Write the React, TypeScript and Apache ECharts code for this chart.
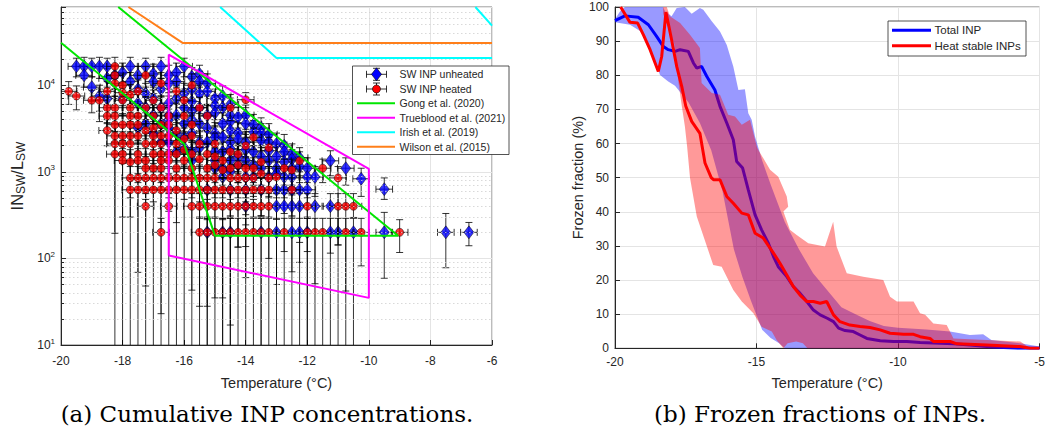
import React, { useEffect, useRef } from "react";
import * as echarts from "echarts";

// ---------- Left panel: cumulative INP concentrations ----------
// each point: [temperature °C, IN_SW/L_SW, lower error end, upper error end]
const unheated: number[][] = [
  [-19.5, 16500, 12500, 20500], [-19.25, 16500, 12000, 21000], [-19.0, 16500, 12500, 20500],
  [-18.75, 16500, 12000, 21000], [-18.5, 16500, 12500, 20500], [-17.75, 16500, 12000, 21000],
  [-17.25, 16500, 12500, 20500], [-16.75, 16500, 12000, 21000], [-16.0, 16500, 12500, 20500],
  [-19.25, 13000, 9500, 16500], [-18.25, 13000, 9000, 17000], [-17.5, 13000, 9500, 16500],
  [-16.5, 13000, 9000, 17000], [-15.75, 12500, 9000, 16000],
  [-18.5, 12000, 8500, 15500], [-18.0, 14000, 10000, 18000], [-17.0, 13500, 10000, 17500],
  [-16.25, 14000, 10000, 18000], [-15.5, 13500, 9500, 17000],
  [-17.75, 11000, 8000, 14000], [-17.0, 11000, 8000, 14500], [-16.25, 11000, 7500, 14000], [-15.5, 11000, 8000, 14500],
  [-16.5, 10500, 7500, 13500], [-15.25, 10500, 7500, 13500],
  [-19.0, 9500, 6500, 12500], [-17.5, 9000, 6500, 12000], [-16.75, 9000, 6000, 12000],
  [-15.75, 9000, 6500, 12000], [-15.25, 8500, 6000, 11000],
  [-17.25, 8000, 5500, 10500], [-16.0, 8000, 5500, 10500], [-15.5, 8000, 5500, 10500], [-14.75, 7500, 5200, 9800],
  [-18.75, 7500, 5000, 10000], [-18.5, 7000, 3600, 9500], [-18.0, 7000, 4500, 9500],
  [-17.0, 7000, 4800, 9500], [-16.25, 7000, 4500, 9500], [-15.0, 7000, 5000, 9000],
  [-17.5, 6200, 4200, 8200], [-16.5, 6200, 4200, 8200], [-15.75, 6500, 4500, 8500],
  [-15.0, 5800, 4000, 7600], [-14.5, 6000, 4200, 7800],
  [-17.25, 5500, 3800, 7200], [-16.75, 5500, 3500, 7500], [-16.0, 5500, 3800, 7200],
  [-15.5, 5500, 3600, 7400], [-14.75, 5500, 4000, 7000],
  [-15.75, 5000, 3400, 6600], [-15.0, 4800, 3300, 6300], [-14.0, 4500, 3100, 5900],
  [-17.0, 4500, 3000, 6000], [-16.5, 4500, 3100, 6000], [-16.25, 4500, 2900, 6200],
  [-15.25, 4500, 3000, 6000], [-14.5, 4500, 3200, 5800], [-14.25, 4300, 3000, 5600],
  [-16.5, 4000, 2700, 5300], [-15.75, 4000, 2700, 5300], [-14.5, 3800, 2600, 5000],
  [-17.25, 3600, 2400, 4800], [-16.75, 3600, 2300, 4900], [-16.0, 3600, 2400, 4800],
  [-15.5, 3600, 2500, 4700], [-14.75, 3600, 2400, 4800], [-14.0, 3600, 2500, 4700], [-13.75, 3500, 2400, 4600],
  [-17.5, 3200, 2100, 4300], [-16.5, 3200, 2100, 4300], [-15.25, 3200, 2100, 4300], [-13.5, 3200, 2200, 4200],
  [-17.0, 2800, 1800, 3800], [-16.25, 2800, 1900, 3700], [-15.75, 2800, 1800, 3800],
  [-15.0, 2800, 1900, 3700], [-14.25, 2800, 1800, 3700], [-13.5, 2800, 1900, 3600],
  [-14.5, 3000, 2000, 4000], [-13.75, 2900, 2000, 3900], [-13.25, 2700, 1800, 3600],
  [-16.0, 2500, 1600, 3400], [-15.0, 2500, 1600, 3400], [-14.75, 2500, 1700, 3300],
  [-14.25, 2400, 1600, 3200], [-13.5, 2300, 1500, 3100],
  [-16.75, 2200, 1400, 3000], [-16.5, 2200, 1300, 3100], [-15.5, 2200, 1400, 3000], [-15.25, 2200, 1500, 2900],
  [-14.5, 2200, 1400, 3000], [-14.0, 2200, 1500, 2900], [-13.25, 2200, 1400, 2900], [-13.0, 2100, 1400, 2800],
  [-12.75, 2000, 1400, 2700], [-16.0, 1900, 1200, 2600], [-15.5, 1900, 1200, 2600],
  [-14.5, 1850, 1200, 2500], [-14.0, 1800, 1200, 2400], [-13.25, 1750, 1150, 2350],
  [-16.25, 1700, 1100, 2300], [-15.75, 1700, 1050, 2300], [-15.0, 1700, 1100, 2300],
  [-14.75, 1700, 1100, 2200], [-13.75, 1700, 1100, 2200], [-12.75, 1700, 1150, 2200], [-12.5, 1600, 1100, 2100],
  [-14.25, 1500, 950, 2000], [-13.5, 1500, 950, 2000], [-13.0, 1500, 1000, 2000], [-12.25, 1450, 1000, 1900],
  [-15.75, 1350, 850, 1800], [-15.0, 1350, 800, 1850], [-14.5, 1350, 850, 1800], [-14.0, 1350, 850, 1800],
  [-13.25, 1350, 900, 1750], [-12.5, 1400, 950, 1800], [-11.25, 1340, 900, 1750],
  [-14.25, 1200, 750, 1600], [-13.75, 1200, 750, 1600], [-12.75, 1300, 850, 1700], [-12.25, 1150, 750, 1500],
  [-15.0, 1100, 650, 1500], [-14.75, 1100, 700, 1450], [-13.5, 1100, 700, 1450], [-13.0, 1100, 650, 1500],
  [-12.5, 1100, 700, 1450], [-12.0, 1100, 750, 1450], [-10.75, 1100, 700, 1450],
  [-14.5, 1000, 600, 1350], [-13.0, 950, 600, 1300],
  [-14.0, 870, 500, 1150], [-13.25, 870, 520, 1150], [-12.5, 870, 540, 1150], [-12.0, 870, 500, 1150],
  [-11.75, 870, 520, 1150], [-10.25, 830, 520, 1100],
  [-14.75, 870, 500, 1150], [-13.75, 870, 520, 1150], [-12.75, 870, 500, 1150],
  [-15.25, 620, 300, 850], [-13.0, 620, 282, 850], [-12.75, 620, 330, 850], [-12.25, 620, 153, 850],
  [-12.0, 620, 300, 850], [-9.5, 630, 480, 850],
  [-14.5, 620, 300, 850], [-14.0, 620, 320, 850], [-13.5, 620, 300, 850], [-12.5, 620, 310, 850],
  [-13.0, 400, 50, 560], [-12.75, 400, 120, 560], [-11.75, 400, 51, 560], [-11.25, 400, 115, 560],
  [-14.0, 400, 60, 560], [-12.5, 400, 70, 560], [-12.25, 400, 90, 560],
  [-15.25, 200, 10, 290], [-14.5, 200, 10, 290], [-13.0, 200, 10, 290], [-12.5, 200, 10, 290],
  [-12.25, 200, 10, 290], [-11.25, 200, 10, 290], [-11.0, 200, 10, 290], [-10.5, 200, 10, 290],
  [-14.75, 200, 10, 290], [-13.5, 200, 10, 290], [-12.0, 200, 10, 290],
  [-9.5, 200, 59, 340], [-7.5, 200, 78, 330], [-6.75, 200, 140, 260],
];

const heated: number[][] = [
  [-18.25, 16500, 12000, 21000],
  [-18.25, 13000, 9000, 17000], [-17.25, 13000, 9500, 16500],
  [-18.25, 10500, 7500, 14000], [-18.0, 10000, 7000, 13500], [-16.75, 10500, 7500, 14000], [-15.75, 10000, 7000, 13500],
  [-19.75, 8500, 6000, 11000], [-17.5, 8500, 6000, 11500], [-16.25, 8500, 6000, 11000],
  [-18.5, 8500, 6000, 11000], [-18.0, 8200, 5800, 10800], [-17.75, 7800, 5500, 10200],
  [-19.5, 7500, 5200, 9800],
  [-19.0, 6700, 4800, 8800], [-18.75, 6700, 3800, 9000], [-18.0, 6700, 4500, 9000],
  [-17.0, 6700, 4700, 8800], [-16.0, 6700, 4500, 9000], [-14.0, 6800, 5500, 8200],
  [-18.5, 5500, 3700, 7300], [-18.25, 5500, 3600, 7400], [-17.75, 5500, 3800, 7200], [-17.25, 5500, 3600, 7400],
  [-16.75, 5500, 3700, 7300], [-15.5, 5500, 3800, 7200], [-14.5, 5500, 3900, 7100],
  [-18.5, 4400, 3000, 5900], [-17.5, 4400, 3000, 5900],
  [-18.25, 4400, 2900, 5900], [-17.75, 4400, 2800, 6000], [-17.0, 4400, 2900, 5900],
  [-16.5, 4400, 3000, 5800], [-16.0, 4400, 2900, 5900], [-15.25, 4400, 3000, 5800],
  [-18.25, 3500, 2200, 4800], [-18.0, 3500, 2300, 4700], [-17.75, 3500, 2200, 4800], [-17.5, 3500, 2300, 4700],
  [-16.75, 3500, 2200, 4800], [-16.5, 3500, 2300, 4700], [-15.75, 3500, 2200, 4800],
  [-18.5, 3000, 2000, 4000], [-17.25, 3000, 2000, 4000], [-17.0, 3200, 2100, 4300], [-16.25, 3000, 2000, 4000],
  [-18.25, 2600, 1600, 3600], [-18.0, 2600, 1700, 3500], [-17.75, 2600, 1600, 3600], [-17.5, 2600, 1700, 3500],
  [-17.0, 2600, 1600, 3600], [-16.5, 2600, 1700, 3500], [-15.75, 2600, 1600, 3600], [-13.75, 2500, 1800, 3200],
  [-16.75, 2600, 1700, 3500], [-16.0, 2400, 1600, 3200],
  [-18.25, 2100, 10, 2900], [-18.0, 2100, 1250, 2900], [-17.75, 2100, 500, 2900], [-17.25, 2100, 1300, 2800],
  [-17.0, 2100, 1250, 2900], [-16.75, 2100, 1300, 2900], [-16.25, 2100, 1300, 2800], [-15.5, 2100, 1300, 2900],
  [-15.0, 2100, 1350, 2800], [-14.0, 2000, 1300, 2700], [-13.25, 1900, 1300, 2500],
  [-16.0, 1800, 1100, 2400], [-14.5, 1700, 1100, 2300],
  [-18.25, 1600, 195, 2200], [-18.0, 1600, 300, 2200], [-17.5, 1600, 950, 2200], [-16.75, 1600, 1000, 2200],
  [-16.5, 1600, 950, 2200], [-16.25, 1600, 1000, 2200], [-15.75, 1600, 950, 2200], [-15.25, 1600, 1000, 2100],
  [-14.25, 1600, 1000, 2100], [-17.0, 1600, 1000, 2200],
  [-15.0, 1500, 950, 2000], [-15.5, 1400, 900, 1900],
  [-18.0, 1350, 10, 1850], [-17.5, 1350, 750, 1850], [-17.25, 1350, 800, 1850], [-16.75, 1350, 750, 1850],
  [-16.5, 1350, 800, 1800], [-16.0, 1350, 800, 1800], [-14.75, 1350, 850, 1800], [-13.5, 1300, 850, 1750],
  [-12.25, 1340, 900, 1700], [-17.75, 1300, 800, 1800],
  [-15.0, 1200, 750, 1600], [-14.25, 1200, 750, 1600],
  [-17.25, 1100, 600, 1500], [-17.0, 1100, 650, 1500], [-16.75, 1100, 600, 1500], [-16.25, 1100, 650, 1500],
  [-15.75, 1100, 600, 1500], [-14.5, 1100, 650, 1450], [-14.0, 1100, 650, 1450], [-13.75, 1100, 700, 1450],
  [-12.75, 1100, 700, 1400], [-11.5, 1100, 750, 1400], [-15.25, 1100, 650, 1500],
  [-14.75, 1050, 650, 1400], [-12.5, 1050, 650, 1400], [-13.5, 950, 600, 1300],
  [-17.75, 850, 10, 1150], [-17.5, 850, 69, 1150], [-17.25, 850, 480, 1150], [-17.0, 850, 450, 1150],
  [-16.75, 850, 23, 1150], [-16.5, 850, 500, 1150], [-16.25, 850, 259, 1150], [-16.0, 850, 480, 1150],
  [-15.75, 850, 500, 1150], [-15.5, 850, 450, 1150], [-15.25, 850, 480, 1150], [-15.0, 850, 500, 1150],
  [-14.5, 850, 480, 1150], [-14.25, 850, 500, 1150], [-14.0, 850, 450, 1150], [-13.75, 850, 480, 1150],
  [-13.25, 850, 500, 1150], [-11.0, 850, 143, 1150], [-13.0, 870, 500, 1150],
  [-17.5, 620, 10, 850], [-17.25, 620, 48, 850], [-17.0, 620, 10, 850], [-16.5, 620, 350, 850],
  [-16.25, 620, 10, 850], [-16.0, 620, 10, 850], [-15.75, 620, 43, 850], [-15.5, 620, 300, 850],
  [-15.0, 620, 300, 850], [-14.75, 620, 280, 850], [-14.5, 620, 310, 850], [-14.25, 620, 135, 850],
  [-14.0, 620, 244, 850], [-13.75, 620, 300, 850], [-13.5, 620, 310, 850], [-13.25, 620, 300, 850],
  [-12.5, 620, 300, 850], [-17.75, 620, 300, 850], [-16.75, 620, 260, 850], [-15.25, 620, 280, 850],
  [-17.25, 400, 10, 560], [-16.5, 400, 10, 560], [-15.75, 400, 10, 560], [-15.5, 400, 28, 560],
  [-15.25, 400, 28, 560], [-15.0, 400, 35, 560], [-14.75, 400, 35, 560], [-14.5, 400, 17, 560],
  [-14.25, 400, 135, 560], [-14.0, 400, 137, 560], [-13.75, 400, 67, 560], [-13.5, 400, 310, 560],
  [-13.25, 400, 100, 560], [-12.0, 400, 120, 560], [-11.0, 400, 143, 560], [-10.75, 400, 42, 560],
  [-10.5, 400, 297, 560],
  [-16.75, 200, 10, 290], [-15.5, 200, 10, 290], [-15.25, 200, 10, 290], [-15.0, 200, 10, 290],
  [-14.75, 200, 10, 290], [-14.5, 200, 10, 290], [-14.25, 200, 10, 290], [-14.0, 200, 10, 290],
  [-13.75, 200, 10, 290], [-13.5, 200, 10, 290], [-13.25, 200, 10, 290], [-12.75, 200, 10, 290],
  [-12.0, 200, 10, 290], [-11.75, 200, 10, 290], [-11.5, 200, 10, 290], [-10.75, 200, 10, 290],
  [-10.25, 200, 82, 290], [-9.0, 200, 117, 280],
];

const gongLine = [[-20, 31000], [-16, 2100], [-15, 183], [-9.05, 183], [-18.14, 80000]];
const truebloodLine = [[-16.5, 108], [-16.5, 22500], [-10, 1080], [-10, 35], [-16.5, 108]];
const irishLineA = [[-14.83, 80000], [-13.0, 20600], [-6, 20600]];
const irishLineB = [[-6.54, 80000], [-6, 48700]];
const wilsonLine = [[-17.81, 80000], [-16.05, 30800], [-6, 30800]];
const minorLevels = [20, 30, 40, 50, 60, 70, 80, 90, 200, 300, 400, 500, 600, 700, 800, 900,
  2000, 3000, 4000, 5000, 6000, 7000, 8000, 9000, 20000, 30000, 40000, 50000, 60000, 70000];
const leftLegendLabels = ["SW INP unheated", "SW INP heated", "Gong et al. (2020)",
  "Trueblood et al. (2021)", "Irish et al. (2019)", "Wilson et al. (2015)"];

// ---------- Right panel: frozen fractions ----------
const totalLine = [
  [-20, 96], [-19.65, 97.4], [-19.18, 97.0], [-18.82, 94.8], [-18.53, 91.4], [-18.29, 88.4], [-18.12, 87.5],
  [-17.88, 87.0], [-17.7, 87.5], [-17.41, 87.0], [-17.23, 83.6], [-17.11, 82.1], [-16.94, 82.6], [-16.76, 79.7],
  [-16.47, 75.7], [-16.29, 70.9], [-16.05, 66], [-15.82, 61.1], [-15.7, 54.7], [-15.49, 52.8], [-15.29, 46.4],
  [-15.05, 39.1], [-14.82, 34.7], [-14.58, 30.8], [-14.4, 26.9], [-14.23, 23.9], [-13.93, 21], [-13.7, 18.1],
  [-13.46, 16.1], [-13.22, 13.7], [-12.99, 11.2], [-12.75, 9.8], [-12.5, 8.8], [-12.28, 7.8], [-12.1, 5.9],
  [-11.87, 5.2], [-11.58, 4.9], [-11.34, 3.9], [-11.1, 2.9], [-10.63, 2.2], [-10.16, 2.0], [-9.69, 2.0],
  [-9.22, 1.7], [-8.5, 1.5], [-8.04, 1.3], [-7.45, 1.0], [-6.86, 0.5], [-6.27, 0.2], [-5.7, 0], [-5, 0],
];
const heatStableLine = [
  [-19.8, 100], [-19.47, 95.5], [-19.2, 95.3], [-19.0, 91.9], [-18.76, 87.5], [-18.47, 81.1], [-18.35, 85.5],
  [-18.2, 98.5], [-18.0, 90.4], [-17.82, 82.6], [-17.64, 76.7], [-17.5, 71], [-17.29, 66.5], [-17.0, 63],
  [-16.82, 54.3], [-16.6, 50], [-16.52, 49.4], [-16.29, 49.4], [-16.05, 44.5], [-15.82, 42.5], [-15.52, 39.6],
  [-15.29, 39.1], [-15.05, 33.7], [-14.76, 32.3], [-14.4, 27.9], [-14.17, 24.9], [-13.93, 21.5], [-13.7, 18.1],
  [-13.46, 15.6], [-13.22, 13.7], [-12.99, 13.7], [-12.75, 13.2], [-12.52, 13.7], [-12.28, 9.8], [-12.05, 7.8],
  [-11.7, 6.8], [-11.34, 6.4], [-10.99, 6.1], [-10.63, 5.4], [-10.28, 4.4], [-9.8, 4.1], [-9.45, 4.1],
  [-9.22, 3.4], [-8.87, 2.9], [-8.75, 2.0], [-8.16, 2.0], [-7.92, 1.3], [-6.86, 1.0], [-5.7, 0.5], [-5.33, 0], [-5, 0],
];
const totalUpper = [
  [-20, 96.5], [-19.8, 99], [-19.65, 100], [-18.3, 100], [-18.23, 98.7], [-18.0, 97.3], [-17.82, 99.7],
  [-17.53, 100], [-17.29, 98], [-17.0, 99.7], [-16.88, 99.2], [-16.58, 95.8], [-16.29, 92.8], [-16.05, 88.9],
  [-15.82, 82.6], [-15.64, 75.7], [-15.41, 75.9], [-15.29, 68.9], [-15.17, 67], [-15.05, 62], [-14.8, 55],
  [-14.5, 48], [-14.0, 37], [-13.5, 29], [-13.0, 22], [-12.5, 17], [-12.0, 12], [-11.5, 10], [-11.0, 8],
  [-10.5, 6.5], [-10.0, 6], [-9.0, 5.5], [-8.16, 4.9], [-7.46, 3.9], [-6.99, 4.1], [-6.7, 2.4], [-5.69, 1.5], [-5, 0.5],
];
const totalLower = [
  [-20, 95.5], [-19.47, 94.8], [-19.0, 92.4], [-18.65, 85.5], [-18.41, 80.1], [-18.12, 78.2], [-17.88, 76.9],
  [-17.4, 72], [-17.0, 66], [-16.6, 58], [-16.2, 46], [-15.8, 29], [-15.5, 21], [-15.2, 14], [-14.8, 5.4],
  [-14.5, 3], [-14.2, 1.5], [-14.0, 0], [-5, 0],
];
const heatUpper = [
  [-18.3, 100], [-18.17, 100], [-18.06, 97.3], [-17.7, 95.3], [-17.35, 91.9], [-17.0, 88.0], [-16.94, 77.7],
  [-16.58, 74.8], [-16.29, 74.3], [-16.0, 68.4], [-15.76, 67.9], [-15.52, 65.5], [-15.23, 67.0], [-14.99, 59.1],
  [-14.94, 58.2], [-14.52, 52.3], [-14.23, 50.3], [-13.93, 44.5], [-13.88, 41.5], [-14.05, 40.1], [-13.82, 34.7],
  [-13.58, 33.2], [-13.17, 30.8], [-12.58, 29.8], [-12.29, 37.1], [-12.17, 29.8], [-11.81, 22.0], [-11.23, 21.0],
  [-10.52, 20.0], [-10.28, 15.1], [-10.04, 13.7], [-9.45, 13.7], [-9.22, 10.3], [-9.04, 9.8], [-8.75, 7.3],
  [-8.28, 6.8], [-8.04, 2.9], [-6.86, 2.4], [-5.68, 2.0], [-5.33, 0],
];
const heatLower = [
  [-18.3, 98], [-17.9, 89], [-17.76, 78], [-17.64, 71], [-17.53, 65], [-17.45, 59], [-17.35, 50], [-17.11, 38.6],
  [-16.53, 24.4], [-16.23, 23.9], [-15.82, 17.1], [-15.52, 13.7], [-15.11, 10.3], [-14.82, 6.3], [-14.46, 4.9],
  [-14.29, 2.4], [-14.05, 0], [-13.9, 1.5], [-13.6, 2], [-13.36, 1.5], [-13.2, 0], [-5.33, 0],
];
const rightLegendLabels = ["Total INP", "Heat stable INPs"];

const SANS = "Liberation Sans, Arial, Helvetica, sans-serif";
const SERIF = "DejaVu Serif, serif";
const INK = "#262626";

function errorBars(params: any, api: any) {
  const t = api.value(0), v = api.value(1), lo = api.value(2), hi = api.value(3);
  const c = api.coord([t, v]);
  const b = api.coord([t, Math.max(lo, 10)]);
  const u = api.coord([t, hi]);
  const l = api.coord([t - 0.27, v]);
  const r = api.coord([t + 0.27, v]);
  const cap = 3.5;
  const style = { stroke: "#000", lineWidth: 0.8, fill: null };
  const children: any[] = [
    { type: "line", shape: { x1: c[0], y1: b[1], x2: c[0], y2: u[1] }, style },
    { type: "line", shape: { x1: c[0] - cap, y1: u[1], x2: c[0] + cap, y2: u[1] }, style },
    { type: "line", shape: { x1: l[0], y1: c[1], x2: r[0], y2: c[1] }, style },
    { type: "line", shape: { x1: l[0], y1: c[1] - cap, x2: l[0], y2: c[1] + cap }, style },
    { type: "line", shape: { x1: r[0], y1: c[1] - cap, x2: r[0], y2: c[1] + cap }, style },
  ];
  if (lo > 10) children.push({ type: "line", shape: { x1: c[0] - cap, y1: b[1], x2: c[0] + cap, y2: b[1] }, style });
  return { type: "group", children };
}

function band(upper: number[][], lower: number[][], fill: string) {
  return (params: any, api: any) => {
    const pts: number[][] = [];
    upper.forEach((p) => pts.push(api.coord(p)));
    lower.slice().reverse().forEach((p) => pts.push(api.coord(p)));
    return { type: "polygon", shape: { points: pts }, style: { fill } };
  };
}

function refLine(data: number[][], color: string) {
  return {
    type: "line", xAxisIndex: 0, yAxisIndex: 0, data, showSymbol: false, symbol: "none",
    lineStyle: { color, width: 2 }, silent: true, clip: true, animation: false, z: 5,
  };
}

function buildGraphic() {
  const g: any[] = [];
  // left legend
  const lx = 352.5, ly = 66, lw = 156.5, lh = 88.5;
  g.push({ type: "rect", shape: { x: lx, y: ly, width: lw, height: lh }, style: { fill: "#fff", stroke: INK, lineWidth: 0.8 }, z: 100 });
  const rows = [74.3, 89, 103.3, 117.7, 132.3, 146.7];
  const st = { stroke: "#000", lineWidth: 0.8 };
  [0, 1].forEach((i) => {
    const y = rows[i], cx = 376.5;
    g.push({ type: "line", shape: { x1: 366.5, y1: y, x2: 386.5, y2: y }, style: st, z: 101 });
    g.push({ type: "line", shape: { x1: 366.5, y1: y - 3.5, x2: 366.5, y2: y + 3.5 }, style: st, z: 101 });
    g.push({ type: "line", shape: { x1: 386.5, y1: y - 3.5, x2: 386.5, y2: y + 3.5 }, style: st, z: 101 });
    g.push({ type: "line", shape: { x1: cx, y1: y - 6, x2: cx, y2: y + 6 }, style: st, z: 101 });
    g.push({ type: "line", shape: { x1: cx - 3.5, y1: y - 6, x2: cx + 3.5, y2: y - 6 }, style: st, z: 101 });
    g.push({ type: "line", shape: { x1: cx - 3.5, y1: y + 6, x2: cx + 3.5, y2: y + 6 }, style: st, z: 101 });
    if (i === 0) {
      g.push({ type: "polygon", shape: { points: [[cx, y - 6.5], [cx + 5, y], [cx, y + 6.5], [cx - 5, y]] }, style: { fill: "#0000ff", stroke: "#000", lineWidth: 0.6 }, z: 102 });
    } else {
      g.push({ type: "circle", shape: { cx, cy: y, r: 4 }, style: { fill: "#ff0000", stroke: "#000", lineWidth: 0.6 }, z: 102 });
    }
  });
  const lineColors = ["#00e600", "#ff00ff", "#00ffff", "#ff7f1a"];
  lineColors.forEach((c, k) => {
    const y = rows[k + 2];
    g.push({ type: "line", shape: { x1: 357, y1: y, x2: 395, y2: y }, style: { stroke: c, lineWidth: 2 }, z: 101 });
  });
  leftLegendLabels.forEach((t, k) => {
    g.push({ type: "text", x: 399.5, y: rows[k], style: { text: t, fontSize: 10.5, fontFamily: SANS, fill: INK, verticalAlign: "middle", textVerticalAlign: "middle" }, z: 101 });
  });
  // right legend
  g.push({ type: "rect", shape: { x: 888, y: 21, width: 138, height: 35 }, style: { fill: "#fff", stroke: INK, lineWidth: 0.8 }, z: 100 });
  const rrows = [30.3, 45.7];
  ["#0000ff", "#ff0000"].forEach((c, k) => {
    g.push({ type: "line", shape: { x1: 892, y1: rrows[k], x2: 931, y2: rrows[k] }, style: { stroke: c, lineWidth: 3 }, z: 101 });
  });
  rightLegendLabels.forEach((t, k) => {
    g.push({ type: "text", x: 934.5, y: rrows[k], style: { text: t, fontSize: 11.5, fontFamily: SANS, fill: INK, verticalAlign: "middle", textVerticalAlign: "middle" }, z: 101 });
  });
  // captions
  g.push({ type: "text", x: 267, y: 414, style: { text: "(a) Cumulative INP concentrations.", fontSize: 23, fontFamily: SERIF, fill: "#000", align: "center", textAlign: "center", verticalAlign: "middle", textVerticalAlign: "middle" } });
  g.push({ type: "text", x: 820, y: 414, style: { text: "(b) Frozen fractions of INPs.", fontSize: 23, fontFamily: SERIF, fill: "#000", align: "center", textAlign: "center", verticalAlign: "middle", textVerticalAlign: "middle" } });
  return g;
}

export default function App() {
  const ref = useRef<HTMLDivElement>(null);
  useEffect(() => {
    document.body.style.margin = "0";
    document.body.style.background = "#fff";
    const chart = echarts.init(ref.current!, null, { renderer: "svg" });
    const axisCommon = {
      axisLine: { show: true, onZero: false, lineStyle: { color: INK, width: 1 } },
      axisTick: { show: true, inside: true, length: 5, lineStyle: { color: INK } },
      splitLine: { show: true, lineStyle: { color: "#e4e4e4", width: 1 } },
      nameLocation: "middle" as const,
      nameTextStyle: { color: INK, fontSize: 14.5, fontFamily: SANS },
    };
    const option: any = {
      animation: false,
      backgroundColor: "#fff",
      textStyle: { fontFamily: SANS },
      grid: [
        { left: 61, top: 7, width: 431, height: 338, show: true, borderColor: "#555", borderWidth: 0.8, backgroundColor: "transparent" },
        { left: 615, top: 7, width: 424.5, height: 341.3, show: true, borderColor: "#555", borderWidth: 0.8, backgroundColor: "transparent" },
      ],
      xAxis: [
        { ...axisCommon, type: "value", gridIndex: 0, min: -20, max: -6, interval: 2, name: "Temperature (°C)", nameGap: 30,
          axisLabel: { color: INK, fontSize: 12, margin: 10, fontFamily: SANS } },
        { ...axisCommon, type: "value", gridIndex: 1, min: -20, max: -5, interval: 5, name: "Temperature (°C)", nameGap: 27,
          axisLabel: { color: INK, fontSize: 12, margin: 8, fontFamily: SANS } },
      ],
      yAxis: [
        { ...axisCommon, type: "log", logBase: 10, gridIndex: 0, min: 10, max: 80000,
          name: "{m|IN}{s|SW}{m|/L}{s|SW}", nameGap: 34,
          nameTextStyle: { color: INK, fontFamily: SANS, rich: { m: { fontSize: 16.5, color: INK, fontFamily: SANS }, s: { fontSize: 12, color: INK, fontFamily: SANS, padding: [9, 0, 0, 0] } } },
          axisLabel: {
            color: INK, fontSize: 12, margin: 6, fontFamily: SANS,
            formatter: (v: number) => {
              const e = Math.log10(v);
              if (Math.abs(e - Math.round(e)) > 1e-6) return "";
              return "10{sup|" + Math.round(e) + "}";
            },
            rich: { sup: { fontSize: 8, color: INK, fontFamily: SANS, padding: [0, 0, 8, 0] } },
          } },
        { ...axisCommon, type: "value", gridIndex: 1, min: 0, max: 100, interval: 10, name: "Frozen fraction (%)", nameGap: 29,
          axisLabel: { color: INK, fontSize: 12, margin: 6, fontFamily: SANS } },
      ],
      series: [
        {
          type: "line", xAxisIndex: 0, yAxisIndex: 0, data: [], silent: true, z: 1,
          markLine: {
            silent: true, symbol: "none", label: { show: false }, animation: false,
            lineStyle: { color: "#cfcfcf", type: [1.5, 2.5], width: 0.8 },
            data: minorLevels.map((v) => ({ yAxis: v })),
          },
        },
        {
          type: "line", xAxisIndex: 0, yAxisIndex: 0, data: [], silent: true, z: 1,
          markLine: {
            silent: true, symbol: "none", label: { show: false }, animation: false,
            lineStyle: { color: INK, type: "solid", width: 1 },
            data: minorLevels.map((v) => [{ coord: [-20, v] }, { coord: [-19.9, v] }]),
          },
        },
        { type: "custom", xAxisIndex: 0, yAxisIndex: 0, data: unheated, renderItem: errorBars, encode: { x: 0, y: 1 }, silent: true, clip: true, z: 2 },
        { type: "scatter", xAxisIndex: 0, yAxisIndex: 0, data: unheated.map((d) => [d[0], d[1]]), symbol: "diamond", symbolSize: [10, 13],
          itemStyle: { color: "#0000ff", borderColor: "#000", borderWidth: 0.6 }, silent: true, z: 2 },
        { type: "custom", xAxisIndex: 0, yAxisIndex: 0, data: heated, renderItem: errorBars, encode: { x: 0, y: 1 }, silent: true, clip: true, z: 3 },
        { type: "scatter", xAxisIndex: 0, yAxisIndex: 0, data: heated.map((d) => [d[0], d[1]]), symbol: "circle", symbolSize: 8,
          itemStyle: { color: "#ff0000", borderColor: "#000", borderWidth: 0.6 }, silent: true, z: 4 },
        refLine(gongLine, "#00e600"),
        refLine(truebloodLine, "#ff00ff"),
        refLine(irishLineA, "#00ffff"),
        refLine(irishLineB, "#00ffff"),
        refLine(wilsonLine, "#ff7f1a"),
        { type: "custom", xAxisIndex: 1, yAxisIndex: 1, data: [[-20, 0]], encode: { x: 0, y: 1 }, renderItem: band(totalUpper, totalLower, "rgba(0,0,255,0.4)"), silent: true, z: 2 },
        { type: "line", xAxisIndex: 1, yAxisIndex: 1, data: totalLine, symbol: "none", showSymbol: false, lineStyle: { color: "#0000ff", width: 3 }, silent: true, z: 3 },
        { type: "custom", xAxisIndex: 1, yAxisIndex: 1, data: [[-20, 0]], encode: { x: 0, y: 1 }, renderItem: band(heatUpper, heatLower, "rgba(255,0,0,0.4)"), silent: true, z: 4 },
        { type: "line", xAxisIndex: 1, yAxisIndex: 1, data: heatStableLine, symbol: "none", showSymbol: false, lineStyle: { color: "#ff0000", width: 3 }, silent: true, z: 5 },
      ],
      graphic: buildGraphic(),
    };
    chart.setOption(option);
    return () => chart.dispose();
  }, []);
  return <div ref={ref} style={{ width: 1051, height: 441 }} />;
}
